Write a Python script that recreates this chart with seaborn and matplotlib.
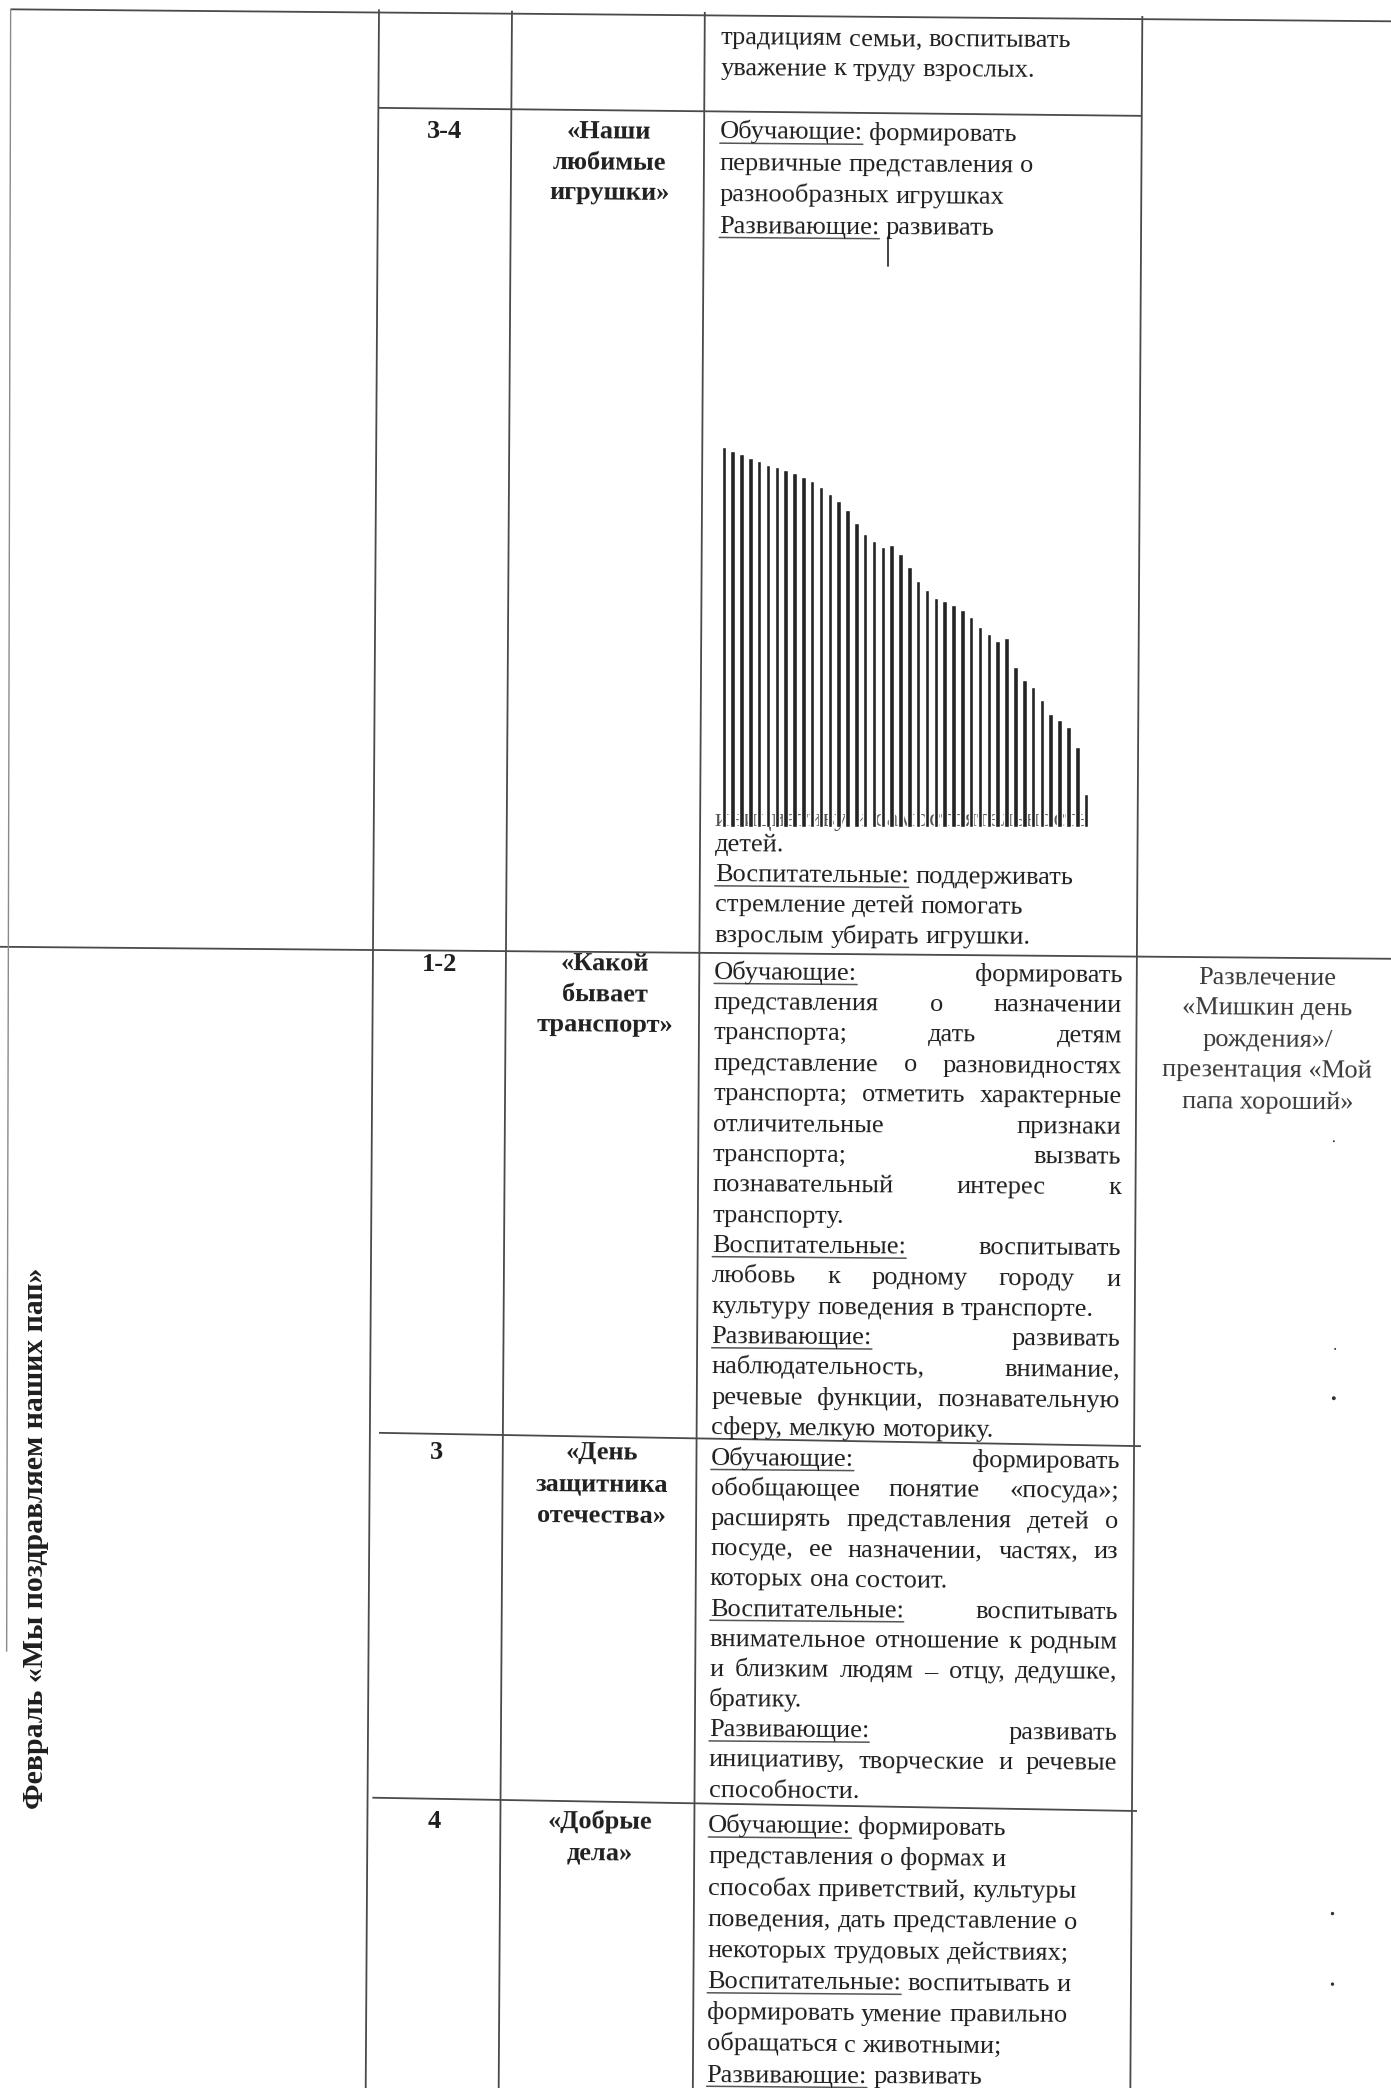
import numpy as np
import pandas as pd
import matplotlib
matplotlib.use('Agg')
import matplotlib.pyplot as plt
from matplotlib.font_manager import FontProperties
import seaborn as sns

# ---- данные ----
# высоты полос (артефакт скана в ячейке «Наши любимые игрушки»), в пикселях страницы
stripe_heights = [285, 282, 280, 277, 275, 272, 270, 268, 266, 263,
                  260, 255, 250, 245, 238, 228, 220, 215, 210, 212,
                  205, 195, 185, 178, 172, 170, 167, 163, 158, 150,
                  145, 140, 142, 120, 110, 105, 95, 85, 80, 75, 60, 25]
stripe_ids = [f's{i:02d}' for i in range(1, len(stripe_heights) + 1)]

weeks = ['3-4', '1-2', '3', '4']
topics = [['«Наши', 'любимые', 'игрушки»'],
          ['«Какой', 'бывает', 'транспорт»'],
          ['«День', 'защитника', 'отечества»'],
          ['«Добрые', 'дела»']]
month_label = 'Февраль «Мы поздравляем наших пап»'
event_lines = ['Развлечение', '«Мишкин день', 'рождения»/',
               'презентация «Мой', 'папа хороший»']

# (текст, выровнен по ширине, подчёркнуто слов)
top_text = [('традициям семьи, воспитывать', False, 0),
            ('уважение к труду взрослых.', False, 0)]
toys_text_a = [('Обучающие: формировать', False, 1),
               ('первичные представления о', False, 0),
               ('разнообразных игрушках', False, 0),
               ('Развивающие: развивать', False, 1)]
toys_hidden = 'инициативу и самостоятельность'
toys_text_b = [('детей.', False, 0),
               ('Воспитательные: поддерживать', False, 1),
               ('стремление детей помогать', False, 0),
               ('взрослым убирать игрушки.', False, 0)]
transport_text = [('Обучающие: формировать', True, 1),
                  ('представления о назначении', True, 0),
                  ('транспорта; дать детям', True, 0),
                  ('представление о разновидностях', True, 0),
                  ('транспорта; отметить характерные', True, 0),
                  ('отличительные признаки', True, 0),
                  ('транспорта; вызвать', True, 0),
                  ('познавательный интерес к', True, 0),
                  ('транспорту.', False, 0),
                  ('Воспитательные: воспитывать', True, 1),
                  ('любовь к родному городу и', True, 0),
                  ('культуру поведения в транспорте.', False, 0),
                  ('Развивающие: развивать', True, 1),
                  ('наблюдательность, внимание,', True, 0),
                  ('речевые функции, познавательную', True, 0),
                  ('сферу, мелкую моторику.', False, 0)]
defender_text = [('Обучающие: формировать', True, 1),
                 ('обобщающее понятие «посуда»;', True, 0),
                 ('расширять представления детей о', True, 0),
                 ('посуде, ее назначении, частях, из', True, 0),
                 ('которых она состоит.', False, 0),
                 ('Воспитательные: воспитывать', True, 1),
                 ('внимательное отношение к родным', True, 0),
                 ('и близким людям – отцу, дедушке,', True, 0),
                 ('братику.', False, 0),
                 ('Развивающие: развивать', True, 1),
                 ('инициативу, творческие и речевые', True, 0),
                 ('способности.', False, 0)]
deeds_text = [('Обучающие: формировать', False, 1),
              ('представления о формах и', False, 0),
              ('способах приветствий, культуры', False, 0),
              ('поведения, дать представление о', False, 0),
              ('некоторых трудовых действиях;', False, 0),
              ('Воспитательные: воспитывать и', False, 1),
              ('формировать умение правильно', False, 0),
              ('обращаться с животными;', False, 0),
              ('Развивающие: развивать', False, 1)]

# ---- оформление ----
sns.set_theme(style='white')
plt.rcParams['font.family'] = ['Liberation Serif', 'DejaVu Serif']

W, H = 1046, 1568
PX = 1391
FS = 19
INK = '#1f1f1f'
LINE = '#4a4a4a'
SL = 0.008  # наклон строк скана

fig = plt.figure(figsize=(13.91, 20.88), dpi=100)
fig.patch.set_facecolor('white')
ax = fig.add_axes([0, 0, 1, 1])
ax.set_xlim(0, W)
ax.set_ylim(H, 0)
ax.axis('off')

renderer = fig.canvas.get_renderer()
fp = FontProperties(family=['Liberation Serif'], size=FS)


def tw(s):
    return renderer.get_text_width_height_descent(s, fp, ismath=False)[0] * W / PX


SPACE = tw('н н') - 2 * tw('н')


def left_at(y):
    return 542 - 0.0068 * y


def draw_lines(lines, y0, step, width=307):
    for i, (txt, just, und) in enumerate(lines):
        y = y0 + i * step
        left = left_at(y)
        words = txt.split(' ')
        widths = [tw(w) for w in words]
        if just and len(words) > 1:
            gap = (width - sum(widths)) / (len(words) - 1)
        else:
            gap = SPACE
        x = left
        for w, wd in zip(words, widths):
            ax.text(x, y + SL * (x - left), w, ha='left', va='baseline',
                    fontsize=FS, color=INK, rotation=-0.45,
                    rotation_mode='anchor')
            x += wd + gap
        if und:
            ax.plot([left, left + widths[0]], [y + 3.5, y + 3.5 + SL * widths[0]],
                    color='#555555', lw=1.1)


def draw_center(items, xc, y0, step, bold=True, color=INK):
    for i, t in enumerate(items):
        ax.text(xc, y0 + i * step, t, ha='center', va='baseline', fontsize=FS,
                fontweight='bold' if bold else 'normal', color=color,
                rotation=-0.45, rotation_mode='anchor')


# ---- сетка таблицы ----
hlines = [((8, 7), (1046, 16)),
          ((285, 81), (858, 87)),
          ((0, 711), (1046, 720)),
          ((285, 1076), (858, 1086)),
          ((280, 1350), (855, 1360))]
vlines = [((285, 7), (275, 1568)),
          ((385, 8), (375, 1568)),
          ((530, 9), (521, 1568)),
          ((859, 12), (850, 1568))]
for (x0, y0), (x1, y1) in hlines + vlines:
    ax.plot([x0, x1], [y0, y1], color=LINE, lw=1.3, solid_capstyle='butt')
# бледный левый край таблицы
ax.plot([8, 5], [7, 1240], color='#8a8a8a', lw=1.0)

# ---- текст ----
draw_lines(top_text, 33, 23)

# неделя 3-4
ax.text(335 - 0.006 * 104, 104, weeks[0], ha='center', va='baseline',
        fontsize=FS, fontweight='bold', color=INK)
draw_center(topics[0], 458, 104, 23)
draw_lines(toys_text_a, 104, 23.6)
ax.plot([668, 668], [178, 200], color='#333333', lw=1.3)
ax.text(left_at(620), 620, toys_hidden, ha='left', va='baseline',
        fontsize=FS, color='#555555')
draw_lines(toys_text_b, 639, 22.7)

# февраль
ax.text(27, 1155, month_label, ha='center', va='center', rotation=90,
        fontsize=21.5, fontweight='bold', color=INK)

ax.text(335 - 0.006 * 729, 729, weeks[1], ha='center', va='baseline',
        fontsize=FS, fontweight='bold', color=INK)
draw_center(topics[1], 459 - 0.006 * 729, 729, 23)
draw_lines(transport_text, 735, 22.8)
draw_center(event_lines, 953, 739, 23.3, bold=False, color='#3a3a3a')

ax.text(335 - 0.006 * 1096, 1096, weeks[2], ha='center', va='baseline',
        fontsize=FS, fontweight='bold', color=INK)
draw_center(topics[2], 459 - 0.006 * 1096, 1096, 23.5)
draw_lines(defender_text, 1100, 22.65)

ax.text(335 - 0.006 * 1373, 1373, weeks[3], ha='center', va='baseline',
        fontsize=FS, fontweight='bold', color=INK)
draw_center(topics[3], 459 - 0.006 * 1373, 1373, 23.5)
draw_lines(deeds_text, 1376, 23.4)

# мелкие точки скана в правой колонке
ax.scatter([1003, 1004, 1003, 1002, 1002], [857, 1013, 1050, 1437, 1490],
           s=[2, 2, 8, 6, 6], color='#333333', linewidths=0)

# ---- полосы через seaborn ----
stripes = pd.DataFrame({'stripe': stripe_ids, 'height': stripe_heights})
bax = fig.add_axes([541 / W, 1 - 621 / H, 279 / W, 300 / H])
sns.barplot(data=stripes, x='stripe', y='height', color='#242424',
            width=0.52, saturation=1, ax=bax)
bax.set_xlim(-0.5, len(stripe_ids) - 0.5)
bax.set_ylim(0, 300)
bax.axis('off')
bax.patch.set_alpha(0)

fig.savefig('out.png', dpi=100, facecolor='white')
